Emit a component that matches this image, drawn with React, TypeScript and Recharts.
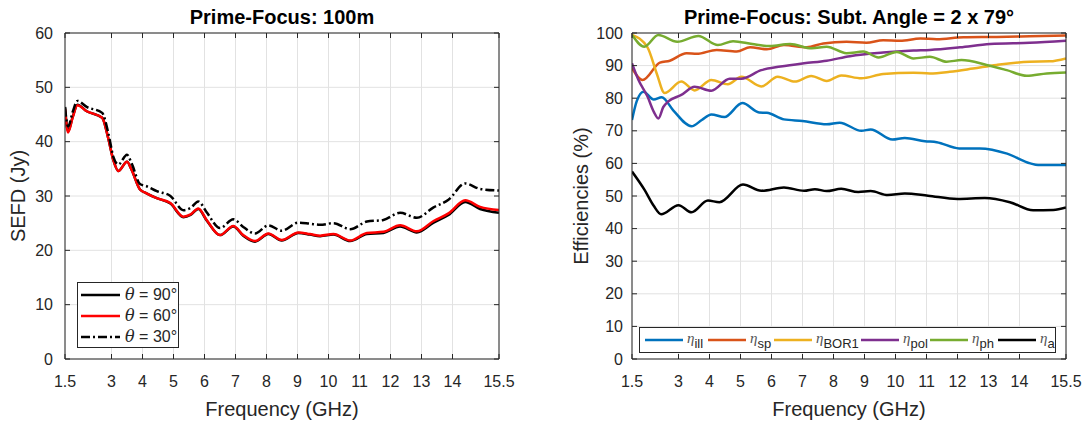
import React from 'react';
import { LineChart, Line, XAxis, YAxis, CartesianGrid } from 'recharts';

// ---------- shared ticks ----------
const X_TICKS = [1.5, 3, 4, 5, 6, 7, 8, 9, 10, 11, 12, 13, 14, 15.5];
const SEFD_Y_TICKS = [0, 10, 20, 30, 40, 50, 60];
const EFF_Y_TICKS = [0, 10, 20, 30, 40, 50, 60, 70, 80, 90, 100];

// ---------- left panel: SEFD ----------
const SEFD_F = [1.5, 1.6, 1.75, 1.9, 2.2, 2.7, 2.9, 3.06, 3.22, 3.5, 3.65, 3.92, 4.13, 4.46, 4.9, 5.32, 5.55, 5.8, 6.07, 6.5, 6.93, 7.25, 7.63, 8.06, 8.49, 9.03, 9.4, 9.73, 10.16, 10.7, 11.24, 11.77, 12.31, 12.85, 13.39, 13.87, 14.41, 14.89, 15.5];
const SEFD_90 = [46.4, 41.9, 44.6, 46.8, 45.6, 44.4, 40.5, 36.6, 34.6, 36.3, 34.8, 31.2, 30.5, 29.6, 28.6, 26.1, 26.5, 27.6, 25.5, 22.8, 24.4, 22.7, 21.6, 23.0, 21.8, 23.2, 22.9, 22.6, 22.9, 21.7, 23.0, 23.2, 24.4, 23.3, 25.1, 26.5, 28.9, 27.6, 26.9];
const SEFD_60 = [46.0, 41.7, 44.5, 46.7, 45.6, 44.4, 40.5, 36.6, 34.6, 36.3, 34.8, 31.2, 30.5, 29.6, 28.7, 26.2, 26.6, 27.7, 25.6, 22.8, 24.5, 22.8, 21.7, 23.1, 21.9, 23.3, 23.0, 22.7, 23.0, 21.8, 23.2, 23.4, 24.6, 23.5, 25.4, 26.8, 29.2, 28.0, 27.4];
const SEFD_30 = [46.3, 42.8, 45.5, 47.5, 46.4, 45.3, 41.5, 37.2, 35.8, 37.6, 36.0, 32.2, 31.8, 30.9, 30.0, 27.4, 27.8, 29.0, 27.0, 24.1, 25.7, 24.3, 23.1, 24.6, 23.6, 25.1, 24.9, 24.7, 25.0, 23.9, 25.3, 25.6, 26.9, 26.0, 27.9, 29.3, 32.3, 31.3, 31.0];
const SEFD_LABELS = ['90', '60', '30'];

// ---------- right panel: efficiencies ----------
const ILL_F = [1.5, 1.65, 1.87, 2.2, 2.46, 2.83, 3.42, 3.75, 4.06, 4.48, 5.06, 5.6, 5.85, 6.4, 7.0, 7.78, 8.2, 8.9, 9.2, 9.9, 10.3, 10.95, 11.33, 12.05, 12.72, 13.6, 14.35, 14.6, 15.5];
const ILL_V = [73.3, 79.0, 82.0, 79.6, 80.3, 76.3, 71.4, 73.3, 75.0, 74.2, 78.5, 75.6, 75.5, 73.5, 73.0, 72.0, 72.5, 70.0, 70.4, 67.3, 67.8, 66.8, 66.5, 64.6, 64.6, 63.0, 60.0, 59.5, 59.5];
const SP_F = [1.5, 1.84, 2.4, 2.72, 3.26, 3.59, 4.23, 4.88, 5.31, 5.85, 6.4, 7.14, 7.67, 8.42, 9.06, 9.6, 10.15, 10.8, 11.33, 12.19, 13.26, 14.33, 15.5];
const SP_V = [89.2, 85.6, 90.9, 91.5, 93.8, 93.6, 94.8, 94.3, 95.6, 95.0, 96.3, 95.6, 96.8, 97.3, 97.0, 97.8, 97.6, 98.3, 98.1, 98.7, 98.8, 99.0, 99.2];
const BOR_F = [1.5, 2.0, 2.3, 2.55, 3.09, 3.52, 4.06, 4.59, 5.03, 5.67, 6.2, 6.75, 7.28, 7.78, 8.25, 8.9, 9.6, 10.58, 11.11, 11.75, 12.5, 13.26, 14.33, 14.98, 15.5];
const BOR_V = [99.4, 95.6, 87.5, 81.6, 85.1, 82.4, 85.6, 84.3, 86.6, 83.6, 86.6, 85.1, 86.8, 85.3, 87.0, 86.1, 87.4, 87.8, 87.6, 88.1, 89.1, 90.2, 91.2, 91.3, 92.2];
const POL_F = [1.5, 1.71, 2.0, 2.2, 2.35, 2.51, 2.67, 3.09, 3.52, 4.06, 4.65, 5.03, 5.67, 6.29, 7.05, 7.78, 8.53, 9.6, 10.58, 11.11, 12.08, 13.05, 14.33, 15.5];
const POL_V = [90.7, 85.6, 80.5, 75.9, 73.8, 77.3, 79.0, 81.0, 83.5, 82.3, 86.0, 86.0, 88.6, 89.7, 90.7, 91.5, 92.9, 94.0, 94.6, 94.8, 95.6, 96.6, 97.0, 97.6];
const PH_F = [1.5, 1.9, 2.35, 2.96, 3.64, 4.27, 4.76, 5.38, 5.95, 6.6, 7.3, 7.78, 8.42, 8.96, 9.45, 10.04, 10.58, 11.11, 11.65, 12.13, 12.94, 13.59, 14.23, 14.88, 15.5];
const PH_V = [99.4, 95.8, 99.4, 97.3, 99.1, 96.3, 97.5, 96.6, 96.0, 96.6, 95.3, 95.8, 93.8, 94.3, 92.5, 94.2, 92.2, 92.7, 91.2, 91.7, 90.2, 88.6, 86.9, 87.6, 87.9];
const A_F = [1.5, 1.91, 2.2, 2.44, 3.0, 3.42, 3.95, 4.32, 5.08, 5.67, 6.4, 7.05, 7.4, 7.78, 8.25, 8.8, 9.2, 9.75, 10.3, 11.05, 12.0, 12.88, 13.69, 14.44, 15.09, 15.5];
const A_V = [57.5, 51.8, 47.0, 44.4, 47.2, 45.0, 48.6, 48.1, 53.5, 51.6, 52.6, 51.6, 52.1, 51.5, 52.2, 51.2, 51.5, 50.3, 50.8, 50.1, 49.1, 49.4, 48.1, 45.6, 45.7, 46.5];
const EFF_SUBS = ['ill', 'sp', 'BOR1', 'pol', 'ph', 'a'];

// ---------- styling ----------
const FONT = '"Liberation Sans", Arial, Helvetica, sans-serif';
const INK = '#262626';
const GRID = '#e2e2e2';
const LW = 2.5;
const SEFD_STYLES = [
  { stroke: '#000000', dash: undefined as string | undefined },
  { stroke: '#ff0000', dash: undefined as string | undefined },
  { stroke: '#000000', dash: '9 3 2 3' },
];
const EFF_COLORS = ['#0072BD', '#D95319', '#EDB120', '#7E2F8E', '#77AC30', '#000000'];
const EFF_LEGEND_LEFT = [4, 67, 133, 220, 289, 357];

const sefdRows = SEFD_F.map((f, i) => ({ f, s90: SEFD_90[i], s60: SEFD_60[i], s30: SEFD_30[i] }));
const zip = (fs: number[], vs: number[]) => fs.map((f, i) => ({ f, v: vs[i] }));
const effSeries = [
  zip(ILL_F, ILL_V),
  zip(SP_F, SP_V),
  zip(BOR_F, BOR_V),
  zip(POL_F, POL_V),
  zip(PH_F, PH_V),
  zip(A_F, A_V),
];

const tickStyle = { fill: INK, fontSize: 16, fontFamily: FONT };
const fmt = (v: number) => String(v);
const blank = () => '';

function axes(yDomain: number[], yTicks: number[], yTickMargin: number) {
  return [
    <CartesianGrid key="g" stroke={GRID} strokeWidth={1} />,
    <XAxis key="xb" dataKey="f" type="number" domain={[1.5, 15.5]} ticks={X_TICKS} interval={0}
      allowDataOverflow height={30} tickSize={-5} tickMargin={22} stroke={INK}
      tick={tickStyle} tickFormatter={fmt} />,
    <XAxis key="xt" xAxisId="top" orientation="top" dataKey="f" type="number" domain={[1.5, 15.5]}
      ticks={X_TICKS} interval={0} allowDataOverflow height={1} tickSize={-5} stroke={INK}
      tick={tickStyle} tickFormatter={blank} />,
    <YAxis key="yl" type="number" domain={yDomain} ticks={yTicks} interval={0} allowDataOverflow
      width={40} tickSize={-5} tickMargin={yTickMargin} stroke={INK} tick={tickStyle} tickFormatter={fmt} />,
    <YAxis key="yr" yAxisId="right" orientation="right" type="number" domain={yDomain} ticks={yTicks}
      interval={0} allowDataOverflow width={1} tickSize={-5} stroke={INK} tick={tickStyle} tickFormatter={blank} />,
  ];
}

const abs = (s: React.CSSProperties): React.CSSProperties => ({ position: 'absolute', ...s });

function Title({ text, cx }: { text: string; cx: number }) {
  return (
    <div style={abs({ left: cx - 250, top: 4, width: 500, textAlign: 'center', fontFamily: FONT, fontWeight: 'bold', fontSize: 20, color: '#000', lineHeight: '26px', whiteSpace: 'nowrap' })}>
      {text}
    </div>
  );
}

function XLabel({ cx }: { cx: number }) {
  return (
    <div style={abs({ left: cx - 150, top: 396, width: 300, textAlign: 'center', fontFamily: FONT, fontSize: 20, color: INK, lineHeight: '26px' })}>
      Frequency (GHz)
    </div>
  );
}

function YLabel({ text, cx, cy }: { text: string; cx: number; cy: number }) {
  return (
    <div style={abs({ left: cx - 150, top: cy - 13, width: 300, height: 26, textAlign: 'center', fontFamily: FONT, fontSize: 20, color: INK, lineHeight: '26px', transform: 'rotate(-90deg)', transformOrigin: '150px 13px' })}>
      {text}
    </div>
  );
}

function Sample({ color, dash, w }: { color: string; dash?: string; w: number }) {
  return (
    <svg width={w} height={8} style={{ display: 'block', flex: 'none' }}>
      <line x1={1} x2={w - 1} y1={4} y2={4} stroke={color} strokeWidth={LW} strokeDasharray={dash} />
    </svg>
  );
}

function SefdLegend() {
  return (
    <div style={abs({ left: 77, top: 282, width: 102, height: 66, boxSizing: 'border-box', border: `1px solid ${INK}`, background: '#fff', paddingTop: 1, fontFamily: FONT, fontSize: 16, color: INK })}>
      {SEFD_LABELS.map((lab, i) => (
        <div key={lab} style={{ display: 'flex', alignItems: 'center', height: 21, paddingLeft: 2 }}>
          <Sample color={SEFD_STYLES[i].stroke} dash={SEFD_STYLES[i].dash} w={41} />
          <span style={{ marginLeft: 4, whiteSpace: 'nowrap' }}>
            <i style={{ fontFamily: '"DejaVu Serif", "Liberation Serif", serif' }}>θ</i> = {lab}°
          </span>
        </div>
      ))}
    </div>
  );
}

function EffLegend() {
  return (
    <div style={abs({ left: 639, top: 327, width: 417, height: 26, boxSizing: 'border-box', border: `1px solid ${INK}`, background: '#fff', fontFamily: FONT, color: INK })}>
      {EFF_SUBS.map((sub, i) => (
        <div key={sub} style={abs({ left: EFF_LEGEND_LEFT[i], top: 0, height: 24, display: 'flex', alignItems: 'center' })}>
          <Sample color={EFF_COLORS[i]} w={40} />
          <span style={{ marginLeft: 3, whiteSpace: 'nowrap', lineHeight: '16px', position: 'relative', top: -2 }}>
            <i style={{ fontFamily: '"Liberation Serif", "DejaVu Serif", serif', fontSize: 15, color: '#555' }}>η</i>
            <span style={{ fontSize: 13, position: 'relative', top: 5 }}>{sub}</span>
          </span>
        </div>
      ))}
    </div>
  );
}

export default function App() {
  return (
    <div style={abs({ left: 0, top: 0, width: 1090, height: 425, background: '#fff', overflow: 'hidden' })}>
      <div style={abs({ left: 0, top: 0 })}>
        <LineChart width={545} height={425} data={sefdRows} margin={{ top: 32, right: 45, bottom: 36, left: 25 }}>
          {axes([0, 60], SEFD_Y_TICKS, 17)}
          <Line dataKey="s90" type="monotone" stroke={SEFD_STYLES[0].stroke} strokeWidth={LW} dot={false} activeDot={false} isAnimationActive={false} />
          <Line dataKey="s60" type="monotone" stroke={SEFD_STYLES[1].stroke} strokeWidth={LW} dot={false} activeDot={false} isAnimationActive={false} />
          <Line dataKey="s30" type="monotone" stroke={SEFD_STYLES[2].stroke} strokeDasharray={SEFD_STYLES[2].dash} strokeWidth={LW} dot={false} activeDot={false} isAnimationActive={false} />
        </LineChart>
      </div>
      <div style={abs({ left: 545, top: 0 })}>
        <LineChart width={545} height={425} margin={{ top: 32, right: 23, bottom: 36, left: 47 }}>
          {axes([0, 100], EFF_Y_TICKS, 14)}
          {effSeries.map((d, i) => (
            <Line key={EFF_SUBS[i]} data={d} dataKey="v" type="monotone" stroke={EFF_COLORS[i]} strokeWidth={LW} dot={false} activeDot={false} isAnimationActive={false} />
          ))}
        </LineChart>
      </div>
      <Title text="Prime-Focus: 100m" cx={282} />
      <Title text="Prime-Focus: Subt. Angle = 2 x 79°" cx={849} />
      <XLabel cx={282} />
      <XLabel cx={849} />
      <YLabel text="SEFD (Jy)" cx={18} cy={196} />
      <YLabel text="Efficiencies (%)" cx={581} cy={196} />
      <SefdLegend />
      <EffLegend />
    </div>
  );
}
